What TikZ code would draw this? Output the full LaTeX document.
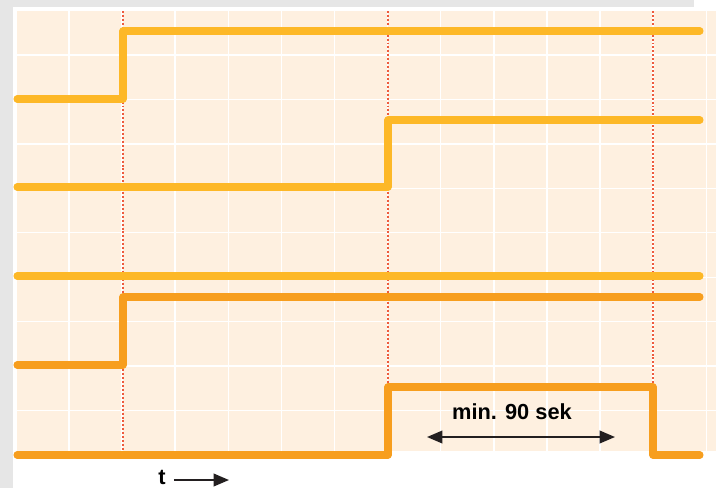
\documentclass[tikz,border=0pt]{standalone}
\usepackage{fontspec}
\setmainfont{Liberation Sans}
\usetikzlibrary{arrows.meta}
\definecolor{cream}{HTML}{FEF0E0}
\definecolor{sigyellow}{HTML}{FDB827}
\definecolor{sigorange}{HTML}{F79E1E}
\definecolor{redmark}{HTML}{EE5B3D}
\definecolor{framegray}{HTML}{E6E6E6}
\definecolor{arrowblack}{HTML}{231F20}

\begin{document}
\begin{tikzpicture}[x=0.025cm, y=-0.025cm,
	signal/.style={line width=5pt, line cap=round, line join=round},
	redline/.style={redmark, line width=1.1pt, dash pattern=on 1.4pt off 1.4pt},
	gridline/.style={white, line width=1pt},
	timearrow/.style={arrowblack, line width=1.4pt, -{Triangle[length=11pt, width=9pt]}},
	label/.style={font=\bfseries\fontsize{15.5}{18}\selectfont, inner sep=0pt}]
	%%%%% START %%%%%
	
	\useasboundingbox (0, 0) rectangle (716, 488);
	\fill[white] (0, 0) rectangle (716, 488);
	\fill[framegray] (0, 0) rectangle (694, 7);
	\fill[framegray] (0, 0) rectangle (13, 488);
	\fill[cream] (17, 11) rectangle (716, 451);
	
	% grid
	\foreach \i in {0,...,12}
		\draw[gridline] ({69+53.1*\i}, 11) -- ({69+53.1*\i}, 451);
	\foreach \j in {1,...,9}
		\draw[gridline] (17, {10.5+44.45*\j}) -- (716, {10.5+44.45*\j});
	
	% switching moments
	\draw[redline] (123, 11) -- (123, 452);
	\draw[redline] (388, 11) -- (388, 452);
	\draw[redline] (653, 11) -- (653, 452);
	
	% signals
	\draw[signal, sigyellow] (17, 99) -- (123, 99) -- (123, 31) -- (700, 31);
	\draw[signal, sigyellow] (17, 187) -- (388, 187) -- (388, 120) -- (700, 120);
	\draw[signal, sigyellow] (17, 276) -- (700, 276);
	\draw[signal, sigorange] (17, 365) -- (123, 365) -- (123, 297) -- (700, 297);
	\draw[signal, sigorange] (17, 455) -- (388, 455) -- (388, 387) -- (653, 387) -- (653, 455) -- (700, 455);
	
	% minimum time
	\node[label] (mintime) at (512, 412) {min. 90 sek};
	\coordinate (minstart) at (427, 437);
	\coordinate (minend) at (615, 437);
	\draw[timearrow, {Triangle[length=11pt, width=9pt]}-{Triangle[length=11pt, width=9pt]}] (minstart) -- (minend);
	
	% time axis
	\node[label] (tlabel) at (162, 477) {t};
	\coordinate (tend) at (229, 480);
	\draw[timearrow] (tlabel.east) ++(8, 3) -- (tend);
	
	%%%%% END %%%%%
\end{tikzpicture}
\end{document}
